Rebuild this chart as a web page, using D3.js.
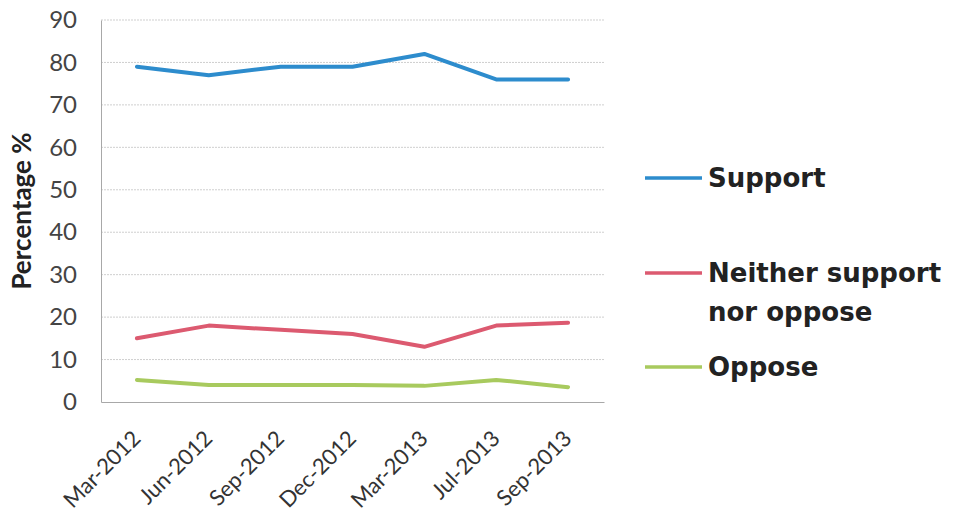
<!DOCTYPE html>
<html><head><meta charset="utf-8">
<script src="https://cdn.jsdelivr.net/npm/d3@7"></script>
<style>
html,body{margin:0;padding:0;background:#fff;}
svg{display:block;}
</style>
</head><body>
<svg id="chart" width="954" height="520"></svg>
<script>
const categories = ["Mar-2012","Jun-2012","Sep-2012","Dec-2012","Mar-2013","Jul-2013","Sep-2013"];
const support = [79, 77, 79, 79, 82, 76, 76];
const neither = [15, 18, 17, 16, 13, 18, 18.7];
const oppose = [5.2, 4, 4, 4, 3.8, 5.2, 3.5];
const yTicks = [0,10,20,30,40,50,60,70,80,90];
const seriesNames = ["Support", "Neither support\nnor oppose", "Oppose"];
const seriesColors = ["#2d8ccd", "#dc5a70", "#a8ca5e"];

(function(){
const series = [support, neither, oppose].map((v,i)=>({name:seriesNames[i], color:seriesColors[i], values:v}));

const svg = d3.select("#chart");
const mLeft = 101, mRight = 604, mTop = 20, mBottom = 402;

const x = d3.scaleBand().domain(categories).range([mLeft, mRight]);
const y = d3.scaleLinear().domain([0, 90]).range([mBottom, mTop]);

// gridlines
svg.append("g").selectAll("line").data(yTicks.filter(d=>d>0)).join("line")
  .attr("x1", mLeft).attr("x2", mRight)
  .attr("y1", d=>y(d)).attr("y2", d=>y(d))
  .attr("stroke", "#cfcfcf").attr("stroke-width", 1)
  .attr("stroke-dasharray", "2,1");

// y axis
const yAxis = svg.append("g").attr("transform", `translate(${mLeft},0)`)
  .call(d3.axisLeft(y).tickValues(yTicks).tickSize(0).tickPadding(24));
yAxis.select(".domain").attr("stroke", "#a8a8a8");
yAxis.selectAll("text").attr("font-family", "Lato, 'Open Sans', sans-serif")
  .attr("font-size", 24).attr("fill", "#444");

// x axis
const xAxis = svg.append("g").attr("transform", `translate(0,${mBottom})`)
  .call(d3.axisBottom(x).tickSize(0));
xAxis.select(".domain").attr("stroke", "#a8a8a8");
xAxis.selectAll("text")
  .attr("font-family", "Lato, 'Open Sans', sans-serif")
  .attr("font-size", 22).attr("fill", "#333")
  .attr("text-anchor", "end")
  .attr("y", 0).attr("dy", 0)
  .attr("transform", "translate(5,38) rotate(-45)");

// y label
svg.append("text")
  .attr("transform", "translate(31,211) rotate(-90)")
  .attr("text-anchor", "middle")
  .attr("font-family", "Lato, 'Open Sans', sans-serif")
  .attr("font-weight", "bold").attr("font-size", 26).attr("fill", "#222")
  .text("Percentage %");

// lines
const line = d3.line()
  .x((d,i)=>x(categories[i]) + x.bandwidth()/2)
  .y(d=>y(d));
svg.append("g").selectAll("path").data(series).join("path")
  .attr("d", d=>line(d.values))
  .attr("fill", "none")
  .attr("stroke", d=>d.color)
  .attr("stroke-width", 4)
  .attr("stroke-linejoin", "round")
  .attr("stroke-linecap", "round");

// legend
const legendY = [178, 273, 367];
const lg = svg.append("g").selectAll("g").data(series).join("g")
  .attr("transform", (d,i)=>`translate(645,${legendY[i]})`);
lg.append("line").attr("x1", 0).attr("x2", 57).attr("y1", 0).attr("y2", 0)
  .attr("stroke", d=>d.color).attr("stroke-width", 3.5);
lg.append("text")
  .attr("x", 63).attr("y", 0)
  .attr("font-family", "'DejaVu Sans', sans-serif")
  .attr("font-weight", "bold").attr("font-size", 26).attr("fill", "#222")
  .each(function(d){
    const parts = d.name.split("\n");
    d3.select(this).selectAll("tspan").data(parts).join("tspan")
      .attr("x", 63).attr("dy", (p,i)=> i===0 ? "0.35em" : "1.5em")
      .text(p=>p);
  });
})();
</script>
</body></html>
